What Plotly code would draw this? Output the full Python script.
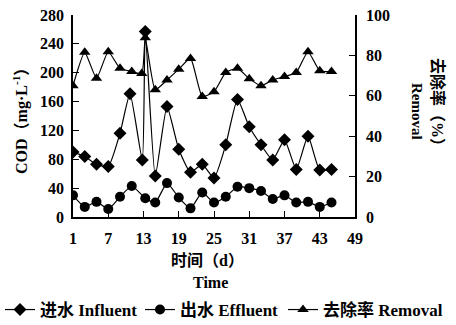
import plotly.graph_objects as go

# Data
influent_days = [1, 3, 5, 7, 9, 10.7, 12.8, 13.3, 15, 17, 19, 21, 23, 25, 27, 29, 31, 33, 35, 37, 39, 41, 43, 45]
influent_cod = [90, 84, 73, 70, 116, 171, 79, 257, 57, 153, 94, 62, 73, 54, 100, 163, 125, 100, 79, 107, 66, 112, 65, 66]

effluent_days = [1, 3, 5, 7, 9, 11, 13.3, 15, 17, 19, 21, 23, 25, 27, 29, 31, 33, 35, 37, 39, 41, 43, 45]
effluent_cod = [30, 14, 21, 11, 28, 43, 26, 20, 47, 27, 12, 34, 20, 28, 42, 40, 36, 25, 30, 20, 21, 14, 20]

removal_days = [1, 3, 5, 7, 9, 11, 12.7, 13.3, 15, 17, 19, 21, 23, 25, 27, 29, 31, 33, 35, 37, 39, 41, 43, 45]
removal_pct = [65, 81.5, 68.7, 81.8, 73.6, 72, 71, 88.7, 63, 67.8, 73.2, 78.5, 59.7, 62, 71.5, 73.6, 68.5, 65, 67.8, 69.5, 71.5, 81.8, 72.4, 72]

x_ticks = [1, 7, 13, 19, 25, 31, 37, 43, 49]
left_ticks = [0, 40, 80, 120, 160, 200, 240, 280]
right_ticks = [0, 20, 40, 60, 80, 100]

FONT = "Liberation Serif, Noto Sans CJK SC, serif"
line_style = dict(color="black", width=1.2, shape="spline", smoothing=0.5)

fig = go.Figure()
fig.add_trace(go.Scatter(
    x=influent_days, y=influent_cod, name="进水 Influent", mode="lines+markers",
    line=line_style, marker=dict(symbol="diamond", size=10, color="black"),
    legend="legend",
))
fig.add_trace(go.Scatter(
    x=effluent_days, y=effluent_cod, name="出水 Effluent", mode="lines+markers",
    line=line_style, marker=dict(symbol="circle", size=10, color="black"),
    legend="legend2",
))
fig.add_trace(go.Scatter(
    x=removal_days, y=removal_pct, name="去除率 Removal", mode="lines+markers",
    line=line_style, marker=dict(symbol="triangle-up", size=10, color="black"),
    yaxis="y2", legend="legend3",
))

axis_common = dict(
    showline=True, linecolor="black", linewidth=1.5, ticks="inside", ticklen=6,
    tickcolor="black", tickwidth=1.2, showgrid=False, zeroline=False,
    tickfont=dict(family=FONT, size=16, color="black", weight="bold"),
)

legend_common = dict(
    orientation="h", xref="container", yref="container", y=1 - 310 / 325,
    xanchor="left", yanchor="middle",
    font=dict(family=FONT, size=17, color="black", weight="bold"),
    itemwidth=30, bgcolor="rgba(0,0,0,0)", borderwidth=0,
)

fig.update_layout(
    width=456, height=325,
    margin=dict(l=73, r=101, t=15, b=108, autoexpand=False),
    paper_bgcolor="white", plot_bgcolor="white",
    font=dict(family=FONT, color="black"),
    xaxis=dict(range=[1, 49], tickvals=x_ticks, ticklabelstandoff=6, **axis_common),
    yaxis=dict(range=[0, 280], tickvals=left_ticks, ticklabelstandoff=4, **axis_common),
    yaxis2=dict(range=[0, 100], tickvals=right_ticks, overlaying="y", side="right",
                ticklabelstandoff=6, **axis_common),
    showlegend=True,
    legend=dict(x=0 / 456, **legend_common),
    legend2=dict(x=140 / 456, **legend_common),
    legend3=dict(x=283 / 456, **legend_common),
    annotations=[
        dict(text="COD（mg·L<sup>-1</sup>）", xref="paper", yref="paper", x=-(73 - 20) / 282,
             y=1 - (117 - 15) / 202,
             textangle=-90, showarrow=False, xanchor="center", yanchor="middle",
             font=dict(family=FONT, size=16, color="black", weight="bold")),
        dict(text="Removal", xref="paper", yref="paper", x=(417 - 73) / 282, y=1 - (111 - 15) / 202,
             textangle=90, showarrow=False, xanchor="center", yanchor="middle",
             font=dict(family=FONT, size=15, color="black", weight="bold")),
        dict(text="去除率（%）", xref="paper", yref="paper", x=(438 - 73) / 282, y=1 - (106 - 15) / 202,
             textangle=90, showarrow=False, xanchor="center", yanchor="middle",
             font=dict(family=FONT, size=16, color="black", weight="bold")),
        dict(text="时间（d）", xref="paper", yref="paper", x=(207 - 73) / 282, y=-(260 - 217) / 202,
             showarrow=False, xanchor="center", yanchor="middle",
             font=dict(family=FONT, size=16, color="black", weight="bold")),
        dict(text="Time", xref="paper", yref="paper", x=(210 - 73) / 282, y=-(282 - 217) / 202,
             showarrow=False, xanchor="center", yanchor="middle",
             font=dict(family=FONT, size=16, color="black", weight="bold")),
    ],
)

fig.write_html(
    "out.html",
    config={"displayModeBar": False},
    post_script="document.body.style.margin='0';document.body.style.overflow='hidden';",
)
